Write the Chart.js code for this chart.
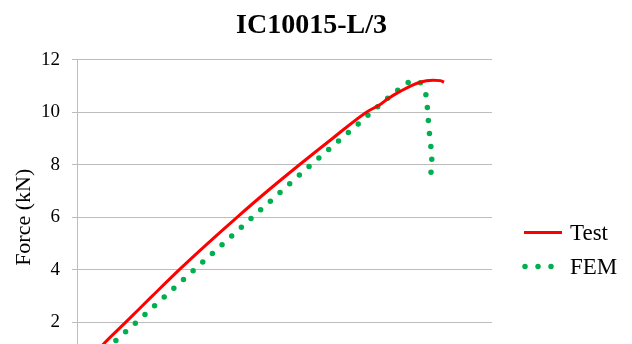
<!DOCTYPE html>
<html>
<head>
<meta charset="utf-8">
<script src="https://cdn.jsdelivr.net/npm/chart.js@4.4.1/dist/chart.umd.min.js"></script>
<style>
  html, body { margin: 0; padding: 0; background: #fff; overflow: hidden; }
  #wrap { position: relative; width: 632px; height: 400px; }
</style>
</head>
<body>
<div id="wrap"><canvas id="chart"></canvas></div>
<script>
// Load–displacement curves for specimen IC10015-L/3
const testDisp  = [0, 1.28, 2.34, 3.62, 4.92, 6.29, 7.71, 9.18, 10.72, 12.31, 13.95, 14.61, 14.93, 15.57, 16.53, 17.17, 17.50, 17.69];
const testForce = [0, 1.18, 2.00, 3.00, 4.00, 5.00, 6.00, 7.00, 8.00, 9.00, 10.00, 10.29, 10.48, 10.79, 11.14, 11.21, 11.20, 11.14];

const femDisp  = [0, 2.81, 5.59, 8.38, 11.19, 13.56, 14.51, 14.99, 15.49, 15.99, 16.53, 16.81, 16.88, 16.93, 16.98, 17.05, 17.10, 17.06];
const femForce = [0, 1.97, 3.96, 5.95, 7.94, 9.56, 10.22, 10.54, 10.86, 11.15, 11.15, 10.69, 10.22, 9.71, 9.23, 8.73, 8.24, 7.70];

const yTicks = [0, 2, 4, 6, 8, 10, 12];
const seriesNames = ['Test', 'FEM'];

const serif = "'Liberation Serif', 'Times New Roman', serif";
const gridGray = '#bdbdbd';

Chart.defaults.font.family = serif;
Chart.defaults.color = '#000';

const toPoints = (xs, ys) => xs.map((x, i) => ({ x, y: ys[i] }));

// Legend drawn beside the plot: a solid sample for Test, a row of dots for FEM
const sideLegend = {
  id: 'sideLegend',
  afterDraw(chart) {
    const { ctx, chartArea } = chart;
    const x0 = chartArea.right + 32;
    const rows = [chartArea.top + 173, chartArea.top + 207];
    ctx.save();
    chart.data.datasets.forEach((ds, i) => {
      const y = rows[i];
      ctx.beginPath();
      ctx.strokeStyle = ds.borderColor;
      ctx.lineWidth = ds.borderWidth;
      ctx.lineCap = ds.borderCapStyle || 'butt';
      if (ds.borderDash && ds.borderDash.length) {
        ctx.setLineDash([0, 13]);
        ctx.moveTo(x0 + 1, y);
        ctx.lineTo(x0 + 27.5, y);
      } else {
        ctx.setLineDash([]);
        ctx.moveTo(x0, y);
        ctx.lineTo(x0 + 38, y);
      }
      ctx.stroke();
      ctx.setLineDash([]);
      ctx.fillStyle = '#000';
      ctx.font = '23px ' + serif;
      ctx.textBaseline = 'middle';
      ctx.textAlign = 'left';
      ctx.fillText(ds.label, x0 + 46, y + 1);
    });
    ctx.restore();
  }
};

new Chart(document.getElementById('chart'), {
  type: 'line',
  data: {
    datasets: [
      {
        label: seriesNames[0],
        data: toPoints(testDisp, testForce),
        borderColor: '#ff0000',
        borderWidth: 3,
        pointRadius: 0,
        cubicInterpolationMode: 'monotone',
        fill: false
      },
      {
        label: seriesNames[1],
        data: toPoints(femDisp, femForce),
        borderColor: '#00b050',
        borderWidth: 5.5,
        borderDash: [0, 13],
        borderCapStyle: 'round',
        pointRadius: 0,
        tension: 0,
        fill: false
      }
    ]
  },
  options: {
    responsive: true,
    maintainAspectRatio: false,
    animation: false,
    layout: { padding: { left: 0, right: 9, top: 0, bottom: 25 } },
    plugins: {
      legend: { display: false },
      tooltip: { enabled: false },
      title: {
        display: true,
        text: 'IC10015-L/3',
        color: '#000',
        font: { family: serif, size: 28, weight: 'bold' },
        padding: { top: 9, bottom: 17 }
      }
    },
    scales: {
      x: {
        type: 'linear',
        min: 0,
        max: 20,
        display: false
      },
      y: {
        type: 'linear',
        min: 0,
        max: 12,
        afterBuildTicks: (scale) => { scale.ticks = yTicks.map(v => ({ value: v })); },
        afterFit: (scale) => { scale.width = 77; },
        grid: { color: gridGray, lineWidth: 1, tickLength: 5, drawTicks: true },
        border: { display: true, color: gridGray, width: 1 },
        ticks: {
          color: '#000',
          padding: 12,
          font: { family: serif, size: 19 }
        },
        title: {
          display: true,
          text: 'Force (kN)',
          color: '#000',
          font: { family: serif, size: 22 },
          padding: { top: 11, bottom: 3 }
        }
      },
      spacer: {
        type: 'linear',
        position: 'right',
        display: true,
        grid: { display: false },
        border: { display: false },
        ticks: { display: false },
        afterFit: (scale) => { scale.width = 131; }
      }
    }
  },
  plugins: [sideLegend]
});
</script>
</body>
</html>
